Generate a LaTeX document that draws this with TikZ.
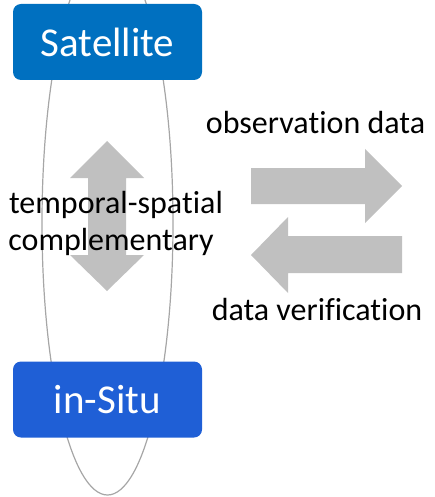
\documentclass[tikz,border=0pt]{standalone}
\usepackage{fontspec}
\setmainfont{Carlito}[Ligatures={NoCommon,NoContextual,NoRare}]
\begin{document}
\begin{tikzpicture}[x=1pt,y=-1pt,
  bluebox/.style={rounded corners=8pt,minimum width=189pt,minimum height=76pt,inner sep=0pt,text=white,font=\fontsize{41}{44}\selectfont},
  grayarrow/.style={fill=arrowgray,draw=none},
  label/.style={font=\fontsize{32}{37}\selectfont,inner sep=0pt,align=center}]
\definecolor{satblue}{HTML}{0070C0}
\definecolor{situblue}{HTML}{1F5FD6}
\definecolor{arrowgray}{HTML}{C0C0C0}
\definecolor{ringgray}{HTML}{A6A6A6}
\useasboundingbox (0,0) rectangle (434,497);
\begin{scope}
\clip (0,0) rectangle (434,497);
\draw[ringgray,line width=1.2pt] (107.5,223) ellipse [x radius=65.5,y radius=272];
\end{scope}
% vertical double arrow
\fill[grayarrow] (107,141) -- (144,178) -- (126,178) -- (126,255) -- (144,255) -- (107,291)
  -- (70,255) -- (88,255) -- (88,178) -- (70,178) -- cycle;
% right arrow
\fill[grayarrow] (251,168) -- (365,168) -- (365,149) -- (402,186) -- (365,223) -- (365,204) -- (251,204) -- cycle;
% left arrow
\fill[grayarrow] (402,236) -- (288,236) -- (288,217) -- (251,255) -- (288,293) -- (288,273) -- (402,273) -- cycle;
\node[bluebox,fill=satblue] (sat) at (107.5,42) {Satellite};
\node[bluebox,fill=situblue] (situ) at (107.5,399.5) {in-Situ};
\node[label,anchor=base] (tsa) at (116,213) {temporal-spa\kern0pt tial};
\node[label,anchor=base] (tsb) at (111,250) {complementary};
\node[label,anchor=base] (obs) at (315.5,134) {observa\kern0pt tion data};
\node[label,anchor=base] (ver) at (317,320) {data verification};
\end{tikzpicture}
\end{document}
